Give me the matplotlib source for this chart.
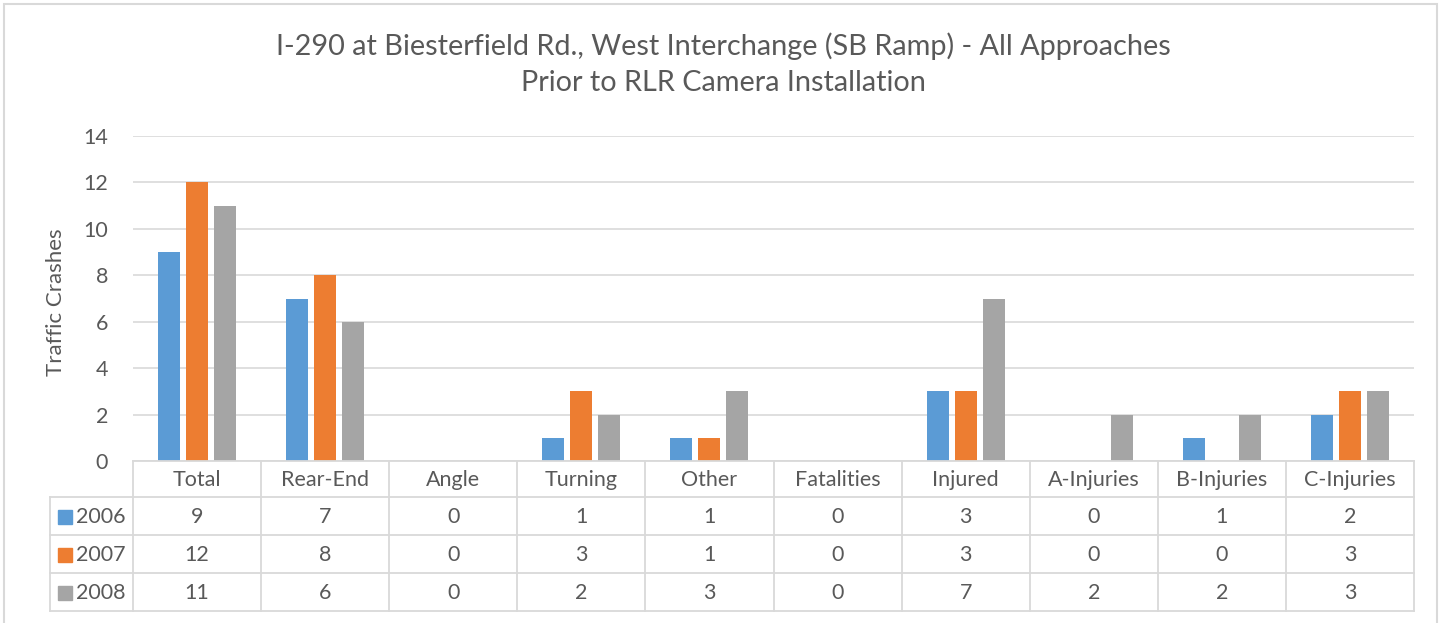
import matplotlib
matplotlib.use("Agg")
import matplotlib.pyplot as plt
import numpy as np
from matplotlib.patches import Rectangle

categories = ["Total", "Rear-End", "Angle", "Turning", "Other", "Fatalities",
              "Injured", "A-Injuries", "B-Injuries", "C-Injuries"]
series_names = ["2006", "2007", "2008"]
vals_2006 = [9, 7, 0, 1, 1, 0, 3, 0, 1, 2]
vals_2007 = [12, 8, 0, 3, 1, 0, 3, 0, 0, 3]
vals_2008 = [11, 6, 0, 2, 3, 0, 7, 2, 2, 3]
yticks = [0, 2, 4, 6, 8, 10, 12, 14]
title = "I-290 at Biesterfield Rd., West Interchange (SB Ramp) - All Approaches\nPrior to RLR Camera Installation"
ylabel = "Traffic Crashes"

series = [vals_2006, vals_2007, vals_2008]
colors = ["#5B9BD5", "#ED7D31", "#A5A5A5"]
txt = "#595959"
grid = "#D9D9D9"
plt.rcParams['font.family'] = ['Lato', 'DejaVu Sans']
FS = 15.5

W, H = 1447, 623
fig = plt.figure(figsize=(W / 100, H / 100), dpi=100)

def fx(x): return x / W
def fy(y): return 1 - y / H

# outer border
fig.patches.append(Rectangle((fx(4), fy(640)), fx(1437 - 4), fy(4) - fy(640),
                             transform=fig.transFigure, fill=False,
                             edgecolor=grid, linewidth=1.5))

pl, pr, pt, pb = 133, 1414, 136, 461
ax = fig.add_axes([fx(pl), fy(pb), fx(pr - pl), fy(pt) - fy(pb)])
n = len(categories)
x = np.arange(n)
bw = 22 / 128
step = 28 / 128
for i, (s, c) in enumerate(zip(series, colors)):
    ax.bar(x + (i - 1) * step, s, width=bw, color=c, zorder=3)
ax.set_xlim(-0.5, n - 0.5)
ax.set_ylim(0, 14)
ax.set_yticks(yticks)
ax.set_yticklabels([str(t) for t in yticks], fontsize=FS, color=txt)
ax.tick_params(axis='y', length=0, pad=18)
ax.set_xticks([])
ax.grid(axis='y', color=grid, linewidth=1.2, zorder=0)
for sp in ax.spines.values():
    sp.set_visible(False)
ax.set_facecolor('none')

fig.text(fx(56), fy(302), ylabel, rotation=90, ha='center', va='center',
         fontsize=FS + 0.5, color=txt)
fig.text(fx(723), fy(64), title, ha='center', va='center', fontsize=20.8,
         color=txt, linespacing=1.5)

# data table
tl, tr, tt, tb = 50, 1414, 461, 611
tax = fig.add_axes([fx(tl), fy(tb), fx(tr - tl), fy(tt) - fy(tb)])
tax.set_xlim(tl, tr)
tax.set_ylim(tb, tt)
tax.axis('off')
rows = [461, 497, 535, 573, 611]
colw = (pr - pl) / n
lw = 1.3
tax.plot([pl, pr], [rows[0], rows[0]], color=grid, lw=lw, clip_on=False)
for r in rows[1:]:
    tax.plot([tl, pr], [r, r], color=grid, lw=lw, clip_on=False)
tax.plot([tl, tl], [rows[1], rows[-1]], color=grid, lw=lw, clip_on=False)
for j in range(n + 1):
    xx = pl + j * colw
    tax.plot([xx, xx], [rows[0], rows[-1]], color=grid, lw=lw, clip_on=False)
for j, cat in enumerate(categories):
    tax.text(pl + (j + 0.5) * colw, (rows[0] + rows[1]) / 2 + 1, cat,
             ha='center', va='center', fontsize=FS, color=txt)
for i, (nm, s, c) in enumerate(zip(series_names, series, colors)):
    yc = (rows[i + 1] + rows[i + 2]) / 2 + 1
    tax.add_patch(Rectangle((58, yc - 7), 14, 14, color=c))
    tax.text(76, yc, nm, ha='left', va='center', fontsize=FS, color=txt)
    for j, v in enumerate(s):
        tax.text(pl + (j + 0.5) * colw, yc, str(v), ha='center', va='center',
                 fontsize=FS, color=txt)

fig.savefig("out.png", dpi=100, facecolor='white')
